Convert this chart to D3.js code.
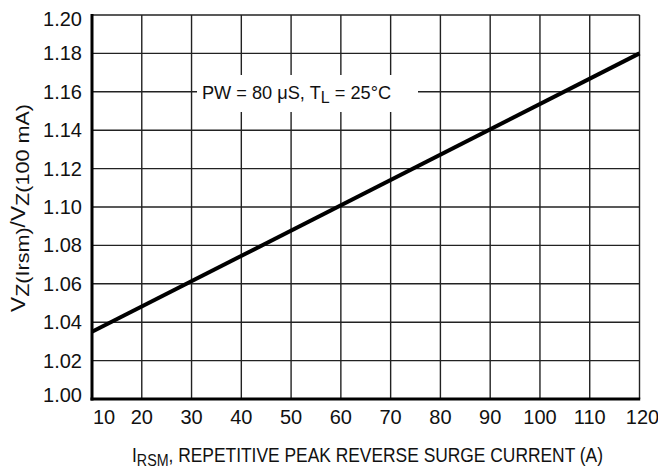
<!DOCTYPE html>
<html><head><meta charset="utf-8">
<script src="https://cdn.jsdelivr.net/npm/d3@7"></script>
<style>body{margin:0;background:#fff}svg{display:block}text{font-family:"Liberation Sans",Arial,sans-serif;fill:#111}</style>
</head><body>
<script>
const xTicks = [10,20,30,40,50,60,70,80,90,100,110,120];
const yTicks = [1.00,1.02,1.04,1.06,1.08,1.10,1.12,1.14,1.16,1.18,1.20];
const currentA = [10, 120];
const ratio = [1.035, 1.18];

const W=658,H=471;
const svg=d3.select("body").append("svg").attr("width",W).attr("height",H);
const x=d3.scaleLinear().domain([10,120]).range([92,639.5]);
const y=d3.scaleLinear().domain([1.0,1.2]).range([399,15]);

const g=svg.append("g");
g.selectAll(".vg").data(xTicks.slice(1)).join("line")
 .attr("x1",d=>x(d)).attr("x2",d=>x(d)).attr("y1",y(1.0)).attr("y2",y(1.2))
 .attr("stroke","#222").attr("stroke-width",1.4);
g.selectAll(".hg").data(yTicks.slice(1)).join("line")
 .attr("x1",x(10)).attr("x2",x(120)).attr("y1",d=>y(d)).attr("y2",d=>y(d))
 .attr("stroke","#222").attr("stroke-width",1.4);

// annotation box
g.append("rect").attr("x",197).attr("y",75).attr("width",221).attr("height",37).attr("fill","#fff");
const ann=g.append("text").attr("x",296.5).attr("y",99).attr("text-anchor","middle")
 .attr("font-size",18.2);
ann.append("tspan").text("PW = 80 \u03bcS, T");
ann.append("tspan").attr("dy",4).attr("font-size",16).text("L");
ann.append("tspan").attr("dy",-4).text(" = 25\u00b0C");

// data line
const line=d3.line().x((d,i)=>x(currentA[i])).y(d=>y(d));
g.append("path").datum(ratio).attr("d",line).attr("fill","none").attr("stroke","#000").attr("stroke-width",4);

// axes
g.append("line").attr("x1",x(10)).attr("x2",x(10)).attr("y1",y(1.2)-1).attr("y2",y(1.0)+1.5).attr("stroke","#000").attr("stroke-width",3);
g.append("line").attr("x1",x(10)-1.5).attr("x2",x(120)+0.7).attr("y1",y(1.0)).attr("y2",y(1.0)).attr("stroke","#000").attr("stroke-width",3);

// tick labels
g.selectAll(".yt").data(yTicks).join("text")
 .attr("x",82).attr("y",d=>{let yy=y(d)+7; if(d===1.2) yy+=4; if(d===1.0) yy-=4; return yy;})
 .attr("text-anchor","end").attr("font-size",20).text(d=>d.toFixed(2));
g.selectAll(".xt").data(xTicks).join("text")
 .attr("x",d=> d===10 ? x(d)+1 : (d===120 ? x(d)+3 : x(d))).attr("y",424)
 .attr("text-anchor",d=>d===10?"start":"middle").attr("font-size",20).text(d=>d);

// x title
const xt=svg.append("text").attr("x",132).attr("y",462).attr("font-size",19.5)
 .attr("textLength",471).attr("lengthAdjust","spacingAndGlyphs");
xt.append("tspan").text("I");
xt.append("tspan").attr("dy",4).attr("font-size",16).text("RSM");
xt.append("tspan").attr("dy",-4).text(", REPETITIVE PEAK REVERSE SURGE CURRENT (A)");

// y title
const ytt=svg.append("text").attr("transform","translate(25,312) rotate(-90)").attr("font-size",20)
 .attr("textLength",208).attr("lengthAdjust","spacingAndGlyphs");
ytt.append("tspan").text("V");
ytt.append("tspan").attr("dy",4).attr("font-size",19).text("Z(Irsm)");
ytt.append("tspan").attr("dy",-4).text("/V");
ytt.append("tspan").attr("dy",4).attr("font-size",19).text("Z(100 mA)");
</script>
</body></html>
